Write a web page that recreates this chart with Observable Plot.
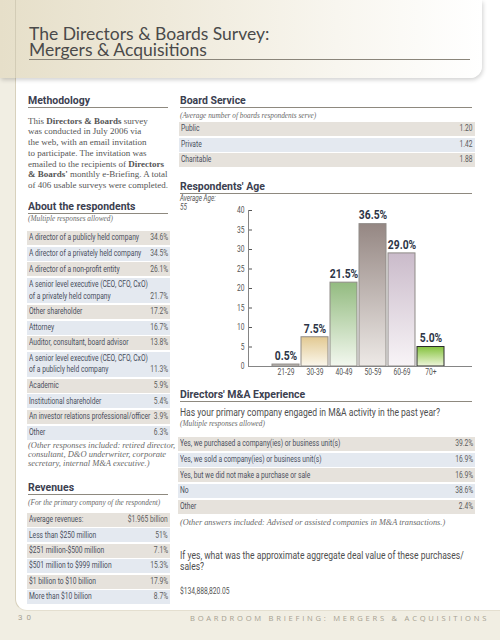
<!DOCTYPE html>
<html>
<head>
<meta charset="utf-8">
<script src="https://cdn.jsdelivr.net/npm/d3@7"></script>
<script src="https://cdn.jsdelivr.net/npm/@observablehq/plot@0.6"></script>
<style>
  html, body { margin: 0; padding: 0; }
  body { width: 500px; height: 640px; background: #f1eee3; overflow: hidden; }
  #page { position: relative; width: 500px; height: 640px; }
  .abs { position: absolute; white-space: nowrap; }
  .cond { font-family: Roboto, "Liberation Sans", sans-serif; }
  .serif { font-family: "Liberation Serif", "DejaVu Serif", serif; }
  .sq { display: inline-block; white-space: pre; }
  .head { position: absolute; height: 13px; font-weight: bold; font-size: 11.5px; line-height: 13px; color: #3b4050; border-bottom: 1px solid #8e897f; white-space: nowrap; }
  .sub { position: absolute; font-style: italic; font-size: 7.3px; line-height: 9px; color: #6a6a6a; white-space: nowrap; }
  .row { position: absolute; box-sizing: border-box; }
  .row span { position: absolute; font-size: 9px; line-height: 11.5px; white-space: pre; }
  .row .lab { left: 2px; color: #4a4f5d; transform-origin: 0 0; }
  .row .val { right: 2px; color: #5d5d5d; transform-origin: 100% 0; }
</style>
</head>
<body>
<div id="page">
  <div class="abs" style="left:15px;top:0;width:485px;height:610px;background:#ffffff;border-left:1px solid #d8d1bd;border-bottom:1px solid #e4dfd0;border-bottom-left-radius:12px;"></div>
  <div class="abs" style="left:0;top:0;width:482px;height:78px;background:linear-gradient(to right,#e6dfc9 0%,#efeadb 35%,#f8f6ef 70%,#ffffff 100%);border-bottom-right-radius:12px;box-shadow:1px 2px 4px rgba(0,0,0,0.18);"></div>
  <div class="abs" style="left:15px;top:0;width:1px;height:78px;background:#d3ccb6;"></div>
  <div id="title" class="abs" style="left:29px;top:26px;width:441px;font-family:Lato,'Open Sans',sans-serif;font-size:17.5px;line-height:16px;color:#4a4a4a;border-bottom:1px solid #8a857a;padding-bottom:1px;"></div>
  <div id="content"></div>
</div>
<svg width="0" height="0" style="position:absolute"><defs id="gradDefs"></defs></svg>
<script>
// ---------- Data ----------
const titleLines = ["The Directors & Boards Survey:", "Mergers & Acquisitions"];

const methodologyLines = [
  "This <b>Directors &amp; Boards</b> survey",
  "was conducted in July 2006 via",
  "the web, with an email invitation",
  "to participate. The invitation was",
  "emailed to the recipients of <b>Directors</b>",
  "<b>&amp; Boards'</b> monthly e-Briefing. A total",
  "of 406 usable surveys were completed."
];

const respondentLabels = [
  "A director of a publicly held company",
  "A director of a privately held company",
  "A director of a non-profit entity",
  "A senior level executive (CEO, CFO, CxO)\nof a privately held company",
  "Other shareholder",
  "Attorney",
  "Auditor, consultant, board advisor",
  "A senior level executive (CEO, CFO, CxO)\nof a publicly held company",
  "Academic",
  "Institutional shareholder",
  "An investor relations professional/officer",
  "Other"
];
const respondentValues = ["34.6%", "34.5%", "26.1%", "21.7%", "17.2%", "16.7%", "13.8%", "11.3%", "5.9%", "5.4%", "3.9%", "6.3%"];
const respondentNote = ["(Other responses included: retired director,", "consultant, D&amp;O underwriter, corporate", "secretary, internal M&amp;A executive.)"];

const revenueLabels = ["Average revenues:", "Less than $250 million", "$251 million-$500 million", "$501 million to $999 million", "$1 billion to $10 billion", "More than $10 billion"];
const revenueValues = ["$1.965 billion", "51%", "7.1%", "15.3%", "17.9%", "8.7%"];

const boardLabels = ["Public", "Private", "Charitable"];
const boardValues = ["1.20", "1.42", "1.88"];

const averageAge = "55";
const ageGroups = ["21-29", "30-39", "40-49", "50-59", "60-69", "70+"];
const agePercents = [0.5, 7.5, 21.5, 36.5, 29.0, 5.0];
const yTicks = [0, 5, 10, 15, 20, 25, 30, 35, 40];

const maQuestion = "Has your primary company engaged in M&A activity in the past year?";
const maLabels = ["Yes, we purchased a company(ies) or business unit(s)", "Yes, we sold a company(ies) or business unit(s)", "Yes, but we did not make a purchase or sale", "No", "Other"];
const maValues = ["39.2%", "16.9%", "16.9%", "38.6%", "2.4%"];
const maNote = "(Other answers included: Advised or assisted companies in M&amp;A transactions.)";
const dealQuestion = ["If yes, what was the approximate aggregate deal value of these purchases/", "sales?"];
const dealValue = "$134,888,820.05";

const pageNumber = "3 0";
const footerText = "BOARDROOM BRIEFING: MERGERS & ACQUISITIONS";

// ---------- Styles (colours) ----------
const barTop = ["#b2aca7", "#e2c992", "#93bb80", "#958783", "#cabbca", "#84c23d"];
const barBottom = ["#d6d2ce", "#fbf7ec", "#f3f8ef", "#ede9e6", "#f8f4f7", "#eef6da"];
const barStroke = ["#8f8b87", "#8f8b87", "#8f8b87", "#8f8b87", "#8f8b87", "#2c2c2c"];
const rowColors = ["#e6e2dc", "#e4e9f0"];

// ---------- condensed-type calibration (Roboto squeezed to a condensed look) ----------
const ctx = document.createElement("canvas").getContext("2d");
function textW(t, font) { ctx.font = font; return ctx.measureText(t).width; }
const kRow = 110 / textW("A director of a publicly held company", "9px Roboto");
const kHead = 62 / textW("Methodology", "bold 11.5px Roboto");
const kQ = 260 / textW(maQuestion, "11.5px Roboto");
const kBar = 28.5 / textW("36.5%", "bold 12px Roboto");

// ---------- Helpers ----------
const content = document.getElementById("content");
function el(html, cls, style) {
  const d = document.createElement("div");
  d.className = cls;
  d.setAttribute("style", style);
  d.innerHTML = html;
  content.appendChild(d);
  return d;
}
function sq(html, k, origin) {
  return `<span class="sq" style="transform:scaleX(${k});transform-origin:${origin || "0 0"};">${html}</span>`;
}
function head(text, left, top, width) {
  el(sq(text, kHead), "head cond", `left:${left}px;top:${top}px;width:${width}px;`);
}
function rows(labels, values, left, top, width, gap) {
  let y = top;
  labels.forEach((lab, i) => {
    const lines = lab.split("\n").length;
    const h = lines > 1 ? 25 : 14;
    const r = el("", "row cond", `left:${left}px;top:${y}px;width:${width}px;height:${h}px;background:${rowColors[i % 2]};`);
    const t0 = (h - lines * 11.5) / 2;
    const a = document.createElement("span"); a.className = "lab"; a.textContent = lab;
    a.style.top = t0 + "px"; a.style.transform = `scaleX(${kRow})`;
    const b = document.createElement("span"); b.className = "val"; b.textContent = values[i];
    b.style.top = (t0 + (lines - 1) * 11.5) + "px"; b.style.transform = `scaleX(${kRow})`;
    r.appendChild(a); r.appendChild(b);
    y += h + gap;
  });
}

// Title
document.getElementById("title").innerHTML = titleLines.join("<br>");

// Left column
head("Methodology", 28, 94, 140);
el(methodologyLines.join("<br>"), "abs serif", "left:28px;top:115.5px;font-size:9px;line-height:10.8px;color:#555;");
head("About the respondents", 28, 200, 140);
el("(Multiple responses allowed)", "sub serif", "left:28px;top:214px;");
rows(respondentLabels, respondentValues, 27, 231, 143, 1.7);
el(respondentNote.join("<br>"), "sub serif", "left:28px;top:441px;line-height:9.2px;font-size:8.5px;");

head("Revenues", 28, 481, 140);
el("(For the primary company of the respondent)", "sub serif", "left:28px;top:497.5px;");
rows(revenueLabels, revenueValues, 27, 513, 143, 1.4);

// Right column
head("Board Service", 180, 94, 292);
el("(Average number of boards respondents serve)", "sub serif", "left:180px;top:110.5px;");
rows(boardLabels, boardValues, 179, 122, 296, 1.5);

head("Respondents' Age", 180, 180, 292);
el(sq("Average Age:<br>" + averageAge, kRow), "abs cond", "left:180px;top:193.5px;font-size:8.5px;line-height:9px;color:#555;font-style:italic;");

head("Directors' M&amp;A Experience", 180, 388, 292);
el(sq(maQuestion.replace("&", "&amp;"), kQ), "abs cond", "left:180px;top:405.5px;font-size:11.5px;line-height:13px;color:#4e4e4e;");
el("(Multiple responses allowed)", "sub serif", "left:180px;top:418.5px;");
rows(maLabels, maValues, 178, 437, 297, 1.7);
el(maNote, "sub serif", "left:180px;top:517.5px;font-size:8.3px;");
el(sq(dealQuestion.join("<br>"), kQ), "abs cond", "left:180px;top:549.5px;font-size:11.5px;line-height:11px;color:#4e4e4e;");
el(sq(dealValue, kRow), "abs cond", "left:180px;top:586px;font-size:9px;line-height:10px;color:#555;");

// Footer
el(pageNumber, "abs cond", "left:18px;top:613px;font-size:8px;color:#a6a295;letter-spacing:1px;");
el(footerText.replace("&", "&amp;"), "abs", "left:190px;top:613px;width:285px;font-family:'Open Sans',sans-serif;font-size:7.6px;color:#a6a192;letter-spacing:2.75px;");

// ---------- Gradients ----------
const defs = d3.select("#gradDefs");
ageGroups.forEach((g, i) => {
  const lg = defs.append("linearGradient").attr("id", "ageGrad" + i).attr("x1", 0).attr("y1", 0).attr("x2", 0).attr("y2", 1);
  lg.append("stop").attr("offset", "0%").attr("stop-color", barTop[i]);
  lg.append("stop").attr("offset", "100%").attr("stop-color", barBottom[i]);
});

// ---------- Chart ----------
const ageData = ageGroups.map((g, i) => ({group: g, pct: agePercents[i], fill: `url(#ageGrad${i})`, stroke: barStroke[i]}));
const chart = Plot.plot({
  width: 295,
  height: 191,
  marginLeft: 68,
  marginRight: 3,
  marginTop: 15,
  marginBottom: 20,
  style: {fontFamily: "Roboto, sans-serif", fontSize: "9px", color: "#555", background: "transparent", overflow: "visible"},
  x: {domain: ageGroups, paddingInner: 0.06, paddingOuter: 0.8, align: 0.47, label: null, tickSize: 0, tickPadding: 2.5},
  y: {domain: [0, 40], ticks: yTicks, label: null, tickSize: -4, tickPadding: 8},
  color: {type: "identity"},
  marks: [
    Plot.barY(ageData, {x: "group", y: "pct", fill: "fill", stroke: "stroke", strokeWidth: 1}),
    Plot.text(ageData, {x: "group", y: "pct", text: d => d.pct.toFixed(1) + "%", dy: -8.5, fontWeight: "bold", fontSize: 12, fill: "#2e3547"}),
    Plot.ruleY([0], {stroke: "#858585"}),
    Plot.frame({anchor: "left", stroke: "#858585"})
  ]
});
// squeeze SVG text horizontally around each label's own anchor
d3.select(chart).selectAll("g[aria-label$='tick label'] text").each(function () {
  this.setAttribute("transform", (this.getAttribute("transform") || "") + ` scale(${kRow},1)`);
});
d3.select(chart).selectAll("g[aria-label='text'] text").each(function () {
  this.setAttribute("transform", (this.getAttribute("transform") || "") + ` scale(${kBar},1)`);
});
chart.style.position = "absolute";
chart.style.left = "180px";
chart.style.top = "195px";
content.appendChild(chart);
</script>
</body>
</html>
